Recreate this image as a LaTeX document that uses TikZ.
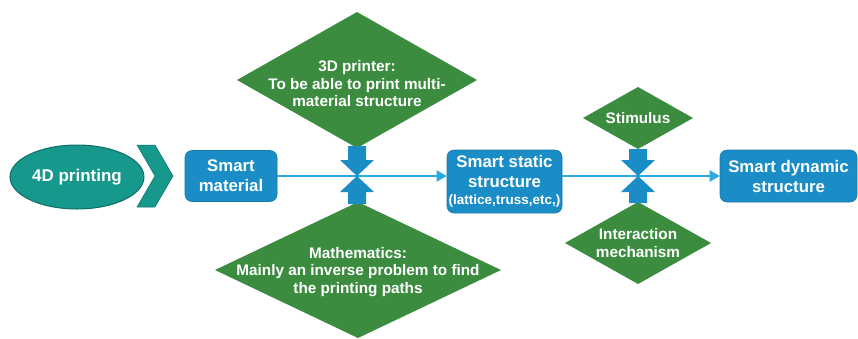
\documentclass[tikz,border=0pt]{standalone}
\usepackage{fontspec}
\setmainfont{Liberation Sans}
\usetikzlibrary{shapes.geometric,arrows.meta}
\definecolor{boxblue}{HTML}{1B8DC6}
\definecolor{lineblue}{HTML}{2BA8E0}
\definecolor{dgreen}{HTML}{3C8C40}
\definecolor{tealfd}{HTML}{17988C}
\definecolor{tealdark}{HTML}{0E6E66}
\begin{document}
\begin{tikzpicture}[x=1pt,y=-1pt,
 bbox/.style={rectangle, rounded corners=7pt, fill=boxblue, draw=boxblue!85!black, line width=0.6pt, text=white, font=\bfseries\fontsize{16.8}{20}\selectfont, align=center, inner sep=0pt},
 gdia/.style={diamond, fill=dgreen, draw=none, inner sep=0pt, outer sep=0pt},
 dtext/.style={text=white, font=\bfseries\fontsize{15.3}{17.5}\selectfont, align=center, inner sep=0pt},
 flow/.style={draw=lineblue, line width=2pt, -{Triangle[length=10pt,width=11pt]}},
 barrow/.style={fill=boxblue}]
\useasboundingbox (0,0) rectangle (858,338);
% start
\node[ellipse, fill=tealfd, draw=tealdark, line width=1pt, minimum width=134pt, minimum height=64pt, inner sep=0pt, text=white, font=\bfseries\fontsize{17}{20}\selectfont] (fd) at (77,177) {4D printing};
\coordinate (chev) at (137,145);
\filldraw[fill=tealfd, draw=tealdark, line width=0.5pt, shift={(chev)}] (0,0) -- (18,0) -- (36,31) -- (18,62) -- (0,62) -- (18,31) -- cycle;
% boxes
\node[bbox, minimum width=92pt, minimum height=51pt] (sm) at (231,176) {Smart\\material};
\node[bbox, minimum width=115pt, minimum height=63pt] (sss) at (504.5,181.5) {Smart static\\structure\\[-3pt]{\fontsize{13.5}{14}\selectfont (lattice,truss,etc,)}};
\node[bbox, minimum width=137pt, minimum height=52pt] (sds) at (788.5,176) {Smart dynamic\\structure};
% diamonds
\node[gdia, minimum width=240pt, minimum height=136pt] (p3d) at (357,80) {};
\node[dtext] (p3dt) at (357,84) {3D printer:\\To be able to print multi-\\material structure};
\node[gdia, minimum width=286pt, minimum height=136pt] (math) at (358,270) {};
\node[dtext] (matht) at (358,272) {Mathematics:\\Mainly an inverse problem to find\\the printing paths};
\node[gdia, minimum width=110pt, minimum height=62pt] (stim) at (638,118) {};
\node[dtext] (stimt) at (638,118) {Stimulus};
\node[gdia, minimum width=146pt, minimum height=82pt] (inter) at (638,243) {};
\node[dtext] (intert) at (638,243) {Interaction\\mechanism};
% flow lines
\draw[flow] (sm.east) -- (sm.east -| sss.west);
\draw[flow] (sss.east |- sds.west) -- (sds.west);
% junction block arrows
\coordinate (j1) at (p3d.south |- sm.east);
\coordinate (j2) at (stim.south |- sm.east);
\begin{scope}[shift={(j1)}]
\fill[barrow] (-9,-30) -- (-9,-16) -- (-17,-16) -- (0,0) -- (17,-16) -- (9,-16) -- (9,-30) -- cycle;
\fill[barrow] (-9,28) -- (-9,16) -- (-17,16) -- (0,0) -- (17,16) -- (9,16) -- (9,28) -- cycle;
\end{scope}
\begin{scope}[shift={(j2)}]
\fill[barrow] (-9,-27) -- (-9,-16) -- (-17,-16) -- (0,0) -- (17,-16) -- (9,-16) -- (9,-27) -- cycle;
\fill[barrow] (-9,27) -- (-9,16) -- (-17,16) -- (0,0) -- (17,16) -- (9,16) -- (9,27) -- cycle;
\end{scope}
\end{tikzpicture}
\end{document}
